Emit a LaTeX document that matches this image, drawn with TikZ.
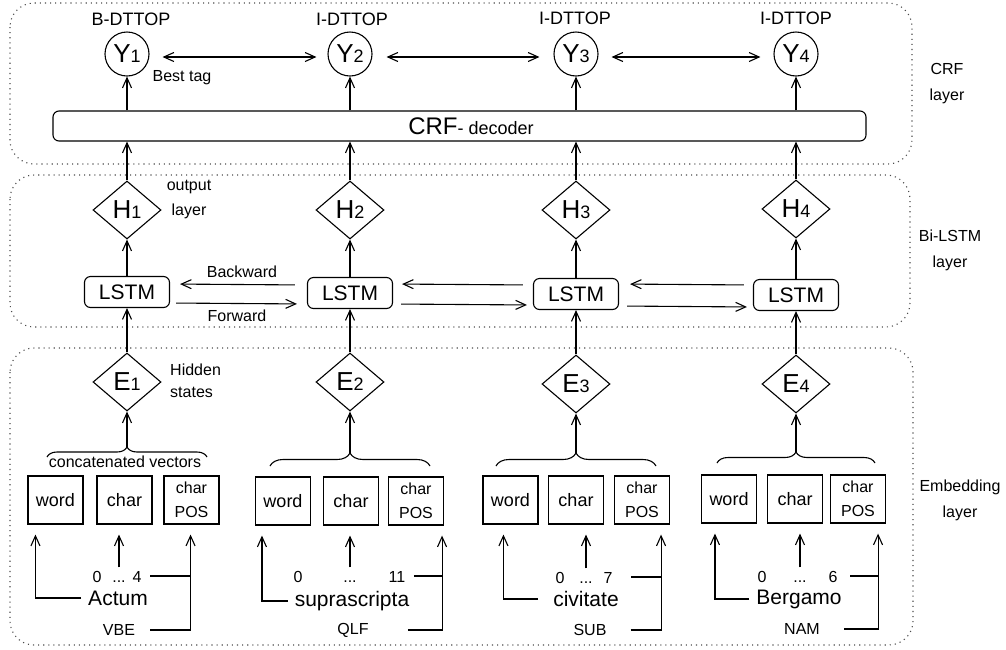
\documentclass[tikz,border=0pt]{standalone}
\usepackage{fontspec}
\setmainfont{Liberation Sans}
\usetikzlibrary{calc, positioning}
\usetikzlibrary{shapes.geometric, arrows.meta, decorations.pathreplacing}

\newcommand{\nsub}[2]{#1{\fontsize{9}{9}\selectfont #2}}

\begin{document}
\begin{tikzpicture}[
    x=0.5pt, y=-0.5pt,
    line width=0.55pt,
    >={Straight Barb[length=5pt, width=4.5pt]},
    frame/.style={draw, dotted, gray!60!black, rounded corners=12pt},
    tag/.style={circle, draw, minimum size=22pt, inner sep=0pt, font=\fontsize{13}{13}\selectfont},
    hstate/.style={diamond, draw, minimum width=34pt, minimum height=29pt, inner sep=0pt, font=\fontsize{13}{13}\selectfont},
    cell/.style={draw, rounded corners=3pt, minimum width=42.5pt, minimum height=15.5pt, inner sep=0pt, font=\fontsize{10.5}{10.5}\selectfont},
    emb/.style={draw, minimum width=27.5pt, minimum height=24pt, inner sep=0pt, font=\fontsize{9}{9}\selectfont},
    embpos/.style={emb, align=center, font=\fontsize{8}{12}\selectfont},
    lab/.style={font=\fontsize{8}{13}\selectfont, align=center},
    toplab/.style={font=\fontsize{9}{9}\selectfont},
    token/.style={font=\fontsize{10.5}{10.5}\selectfont},
    idx/.style={font=\fontsize{8}{8}\selectfont, text height=6pt, text depth=0pt, inner sep=1pt},
    brace/.style={decorate, decoration={brace, amplitude=#1}},
    brace/.default=6.5pt
]
    \useasboundingbox (0,0) rectangle (1006,649);

    % 1. Molduras das camadas (pontilhadas)
    \draw[frame] (10,3) rectangle (912,164);
    \draw[frame] (10,175) rectangle (910,327);
    \draw[frame] (10,348) rectangle (913,645);

    \node[lab] (crflab) at (947,84) {CRF\\layer};
    \node[lab] (bilab) at (950,250) {Bi-LSTM\\layer};
    \node[lab] (emblab) at (960,500) {Embedding\\layer};

    % 2. Camada CRF: etiquetas Y e decodificador
    \node[tag] (y1) at (127,54) {\nsub{Y}{1}};
    \node[tag] (y2) at (350,54) {\nsub{Y}{2}};
    \node[tag] (y3) at (576,54) {\nsub{Y}{3}};
    \node[tag] (y4) at (796,54) {\nsub{Y}{4}};

    \node[toplab] (t1) at (131,19) {B-DTTOP};
    \node[toplab] (t2) at (352,19) {I-DTTOP};
    \node[toplab] (t3) at (575,18) {I-DTTOP};
    \node[toplab] (t4) at (796,18) {I-DTTOP};
    \node[lab] (best) at (182,78) {Best tag};

    \node[draw, rounded corners=3pt, minimum width=406.5pt, minimum height=15pt, inner sep=0pt,
          font=\fontsize{12}{12}\selectfont] (crf) at (459.5,126)
          {\hspace*{11.5pt}CRF{\fontsize{9}{9}\selectfont- decoder}};

    \draw[<->, shorten <=6.5pt, shorten >=5.5pt] ([yshift=-1.5pt]y1.east) -- ([yshift=-1.5pt]y2.west);
    \draw[<->, shorten <=7pt, shorten >=7pt] ([yshift=-1.5pt]y2.east) -- ([yshift=-1.5pt]y3.west);
    \draw[<->, shorten <=6.5pt, shorten >=6.5pt] ([yshift=-1.5pt]y3.east) -- ([yshift=-1.5pt]y4.west);

    \draw[->] (crf.north -| y1) -- (y1);
    \draw[->] (crf.north -| y2) -- (y2);
    \draw[->] (crf.north -| y3) -- (y3);
    \draw[->] (crf.north -| y4) -- (y4);

    % 3. Camada Bi-LSTM
    \node[hstate] (h1) at (127,210) {\nsub{H}{1}};
    \node[hstate] (h2) at (350,210) {\nsub{H}{2}};
    \node[hstate] (h3) at (576,210) {\nsub{H}{3}};
    \node[hstate] (h4) at (796,209) {\nsub{H}{4}};
    \node[lab, font=\fontsize{8}{12.5}\selectfont] (outlab) at (189,199) {output\\layer};

    \node[cell] (l1) at (127,292) {LSTM};
    \node[cell] (l2) at (350,293) {LSTM};
    \node[cell] (l3) at (576,294) {LSTM};
    \node[cell] (l4) at (796,295) {LSTM};

    \draw[->] (h1) -- (h1 |- crf.south);
    \draw[->] (h2) -- (h2 |- crf.south);
    \draw[->] (h3) -- (h3 |- crf.south);
    \draw[->] (h4) -- (h4 |- crf.south);

    \draw[->] (l1) -- (h1);
    \draw[->] (l2) -- (h2);
    \draw[->] (l3) -- (h3);
    \draw[->] (l4) -- (h4);

    % Backward (em cima) e Forward (embaixo)
    \draw[->, shorten <=6pt, shorten >=5pt] ([yshift=4pt]l2.west) -- ([yshift=4pt]l1.east);
    \draw[->, shorten <=3pt, shorten >=5pt] ([yshift=-5.5pt]l1.east) -- ([yshift=-5.5pt]l2.west);
    \draw[->, shorten <=5pt, shorten >=4.5pt] ([yshift=4.5pt]l3.west) -- ([yshift=4.5pt]l2.east);
    \draw[->, shorten <=4pt, shorten >=3pt] ([yshift=-5.5pt]l2.east) -- ([yshift=-5.5pt]l3.west);
    \draw[->, shorten <=4.5pt, shorten >=5.5pt] ([yshift=5pt]l4.west) -- ([yshift=5pt]l3.east);
    \draw[->, shorten <=4pt, shorten >=3pt] ([yshift=-6pt]l3.east) -- ([yshift=-6pt]l4.west);

    \node[lab] (back) at (242,272) {Backward};
    \node[lab] (fwd) at (237,316) {Forward};

    % 4. Camada de embedding: estados E
    \node[hstate] (e1) at (127,382) {\nsub{E}{1}};
    \node[hstate] (e2) at (350,382) {\nsub{E}{2}};
    \node[hstate] (e3) at (576,384) {\nsub{E}{3}};
    \node[hstate] (e4) at (796,384) {\nsub{E}{4}};
    \node[lab, anchor=west, align=left, font=\fontsize{8}{11}\selectfont] (hid) at (163,381) {Hidden\\states};

    \draw[->] (e1) -- (l1);
    \draw[->] (e2) -- (l2);
    \draw[->] (e3) -- (l3);
    \draw[->] (e4) -- (l4);

    % 5. Chaves (vetores concatenados)
    \draw[brace=5pt] (47,457) -- (207,457);
    \draw[brace] (270,466) -- (430,466);
    \draw[brace] (496,466) -- (656,466);
    \draw[brace=5.5pt] (717,463) -- (875,463);
    \coordinate (b1) at (127,447);
    \coordinate (b2) at (350,453);
    \coordinate (b3) at (576,453);
    \coordinate (b4) at (796,452);
    \node[lab] (cv) at (125,462) {concatenated vectors};

    \draw[->] (b1) -- (e1);
    \draw[->] (b2) -- (e2);
    \draw[->] (b3) -- (e3);
    \draw[->] (b4) -- (e4);

    % 6. Caixas word / char / char POS
    \node[emb] (w1) at (55.5,500) {word};
    \node[emb] (c1) at (124.5,500) {char};
    \node[embpos] (p1) at (191.5,500) {char\\POS};

    \node[emb] (w2) at (283,501) {word};
    \node[emb] (c2) at (351,501) {char};
    \node[embpos] (p2) at (416,501) {char\\POS};

    \node[emb] (w3) at (510.5,500) {word};
    \node[emb] (c3) at (576,500) {char};
    \node[embpos] (p3) at (642,500) {char\\POS};

    \node[emb] (w4) at (729,499) {word};
    \node[emb] (c4) at (795,499) {char};
    \node[embpos] (p4) at (858,499) {char\\POS};

    % 7. Palavras, índices e etiquetas POS
    \node[token] (wd1) at (118,598) {Actum};
    \node[idx] (i1a) at (97,576) {0};
    \node[idx] (i1b) at (119,576) {...};
    \node[idx] (i1c) at (137,576) {4};
    \node[lab] (pt1) at (119,630) {VBE};
    \coordinate (v1) at ([xshift=-14.5pt]p1.south east);
    \draw[->, shorten >=5pt] (wd1.west) -| ([xshift=4pt]w1.south west);
    \draw[->, shorten >=5pt] (i1b.north) -- (i1b.north |- c1.south);
    \draw[->, shorten >=5pt, shorten <=4pt] (pt1.east) -| (v1);
    \draw[shorten <=3pt] (i1c.east) -- (i1c.east -| v1);

    \node[token] (wd2) at (352,601) {suprascripta};
    \node[idx] (i2a) at (298,576) {0};
    \node[idx] (i2b) at (350,576) {...};
    \node[idx] (i2c) at (397,576) {11};
    \node[lab] (pt2) at (353,630) {QLF};
    \coordinate (v2) at ([xshift=-1pt]p2.south east);
    \draw[->, shorten >=5pt] (wd2.west) -| ([xshift=3.5pt]w2.south west);
    \draw[->, shorten >=5pt] (i2b.north) -- (i2b.north |- c2.south);
    \draw[->, shorten >=5pt, shorten <=16pt] (pt2.east) -| (v2);
    \draw[shorten <=3pt] (i2c.east) -- (i2c.east -| v2);

    \node[token] (wd3) at (586,599) {civitate};
    \node[idx] (i3a) at (560,577) {0};
    \node[idx] (i3b) at (586,577) {...};
    \node[idx] (i3c) at (608,577) {7};
    \node[lab] (pt3) at (590,630) {SUB};
    \coordinate (v3) at ([xshift=-4.5pt]p3.south east);
    \draw[->, shorten >=5pt, shorten <=4pt] (wd3.west) -| ([xshift=10.5pt]w3.south west);
    \draw[->, shorten >=5pt] (i3b.north) -- (i3b.north |- c3.south);
    \draw[->, shorten >=5pt, shorten <=8.5pt] (pt3.east) -| (v3);
    \draw[shorten <=8pt] (i3c.east) -- (i3c.east -| v3);

    \node[token] (wd4) at (799,599) {Bergamo};
    \node[idx] (i4a) at (762,576) {0};
    \node[idx] (i4b) at (800,576) {...};
    \node[idx] (i4c) at (833,576) {6};
    \node[lab] (pt4) at (802,629) {NAM};
    \coordinate (v4) at ([xshift=-4pt]p4.south east);
    \draw[->, shorten >=5pt] (wd4.west) -| ([xshift=7pt]w4.south west);
    \draw[->, shorten >=5pt] (i4b.north) -- (i4b.north |- c4.south);
    \draw[->, shorten >=5pt, shorten <=8.5pt] (pt4.east) -| (v4);
    \draw[shorten <=5pt] (i4c.east) -- (i4c.east -| v4);

\end{tikzpicture}
\end{document}
